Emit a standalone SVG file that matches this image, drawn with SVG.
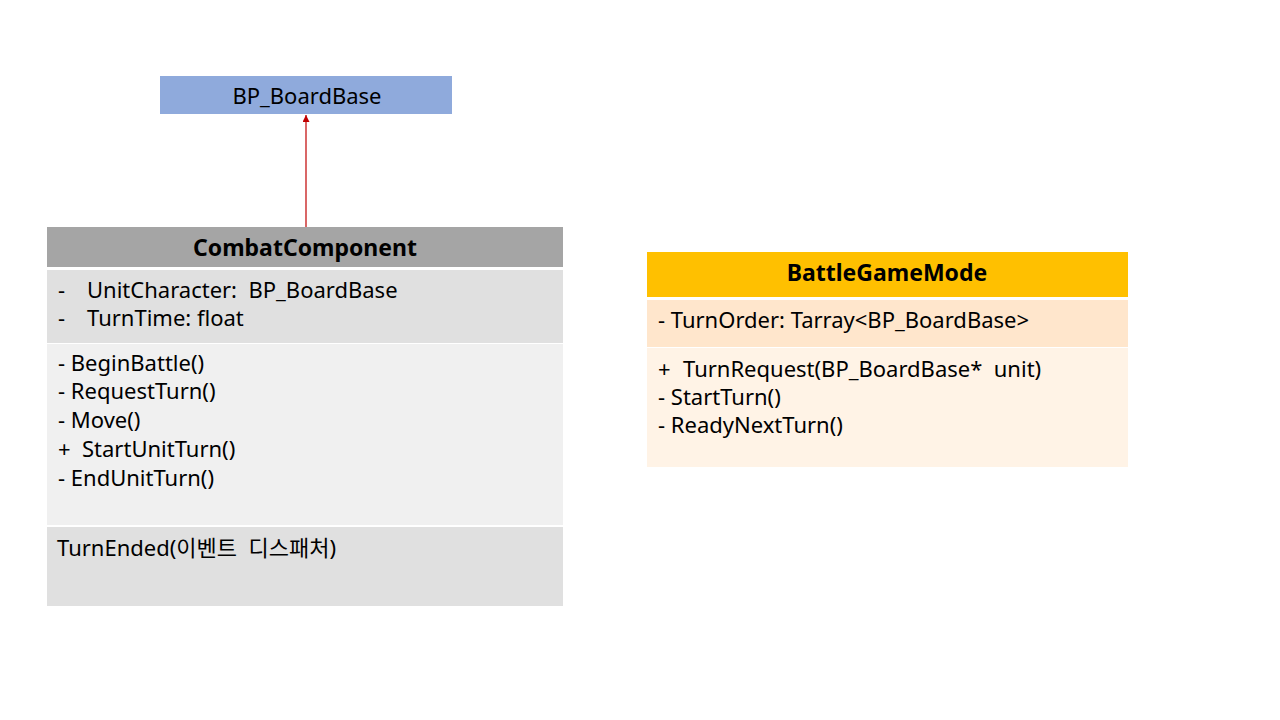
<svg xmlns="http://www.w3.org/2000/svg" width="1280" height="720" viewBox="0 0 1280 720">
<style>
text{font-family:"Noto Sans","Noto Sans CJK KR",sans-serif;font-size:22px;fill:#000}
.b{font-weight:bold;text-anchor:middle;font-size:23px}
.c{text-anchor:middle}
</style>
<defs>
<marker id="arr" viewBox="0 0 10 10" refX="10" refY="5" markerWidth="9" markerHeight="7" markerUnits="userSpaceOnUse" orient="auto">
<path d="M0,0 L10,5 L0,10 z" fill="#C00000"/>
</marker>
</defs>
<rect width="1280" height="720" fill="#fff"/>
<g id="connectors">
<line x1="306" y1="227" x2="306" y2="115" stroke="#C00000" stroke-width="1.2" marker-end="url(#arr)"/>
</g>
<g id="BP_BoardBase">
<rect x="160" y="76" width="292" height="38" fill="#8FAADC"/>
<text class="c" x="307" y="104">BP_BoardBase</text>
</g>
<g id="CombatComponent">
<rect x="47" y="227" width="516" height="40" fill="#A5A5A5"/>
<rect x="47" y="270" width="516" height="73" fill="#E0E0E0"/>
<rect x="47" y="344" width="516" height="181" fill="#F0F0F0"/>
<rect x="47" y="527" width="516" height="79" fill="#E0E0E0"/>
<text class="b" x="305" y="256">CombatComponent</text>
<text x="58" y="298" xml:space="preserve">-<tspan x="87">UnitCharacter:  BP_BoardBase</tspan></text>
<text x="58" y="326">-<tspan x="87">TurnTime: float</tspan></text>
<text x="58" y="371">- BeginBattle()</text>
<text x="58" y="399">- RequestTurn()</text>
<text x="58" y="428">- Move()</text>
<text x="58" y="457">+<tspan x="82">StartUnitTurn()</tspan></text>
<text x="58" y="486">- EndUnitTurn()</text>
<text x="57" y="556" xml:space="preserve">TurnEnded(이벤트  디스패처)</text>
</g>
<g id="BattleGameMode">
<rect x="647" y="252" width="481" height="45" fill="#FFC000"/>
<rect x="647" y="300" width="481" height="47" fill="#FFE6CC"/>
<rect x="647" y="348" width="481" height="119" fill="#FFF3E6"/>
<text class="b" x="887" y="281">BattleGameMode</text>
<text x="658" y="328">- TurnOrder: Tarray&lt;BP_BoardBase&gt;</text>
<text x="658" y="377" xml:space="preserve">+<tspan x="683">TurnRequest(BP_BoardBase*  unit)</tspan></text>
<text x="658" y="405">- StartTurn()</text>
<text x="658" y="433">- ReadyNextTurn()</text>
</g>
</svg>
